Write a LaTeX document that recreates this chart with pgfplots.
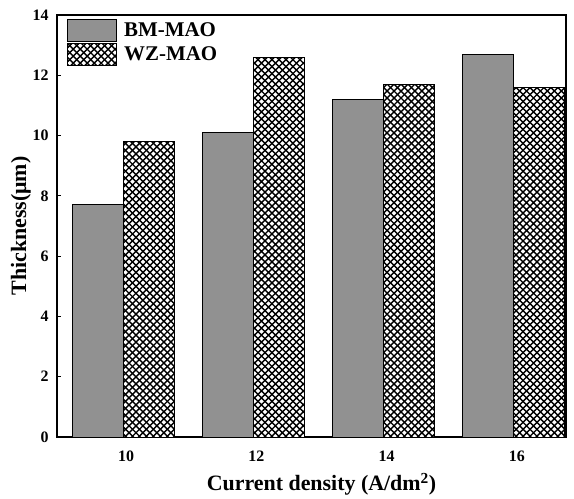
\documentclass[border=0pt]{standalone}
\usepackage{pgfplots}
\pgfplotsset{compat=1.18}
\usepackage{fontspec}
\setmainfont{Liberation Serif}
\usetikzlibrary{patterns}
\pgfdeclarepatternformonly{dcross}{\pgfqpoint{-1pt}{-1pt}}{\pgfqpoint{8pt}{8pt}}{\pgfqpoint{7pt}{7pt}}{%
  \pgfsetlinewidth{1.4pt}%
  \pgfpathmoveto{\pgfqpoint{0pt}{0pt}}\pgfpathlineto{\pgfqpoint{7pt}{7pt}}%
  \pgfpathmoveto{\pgfqpoint{0pt}{7pt}}\pgfpathlineto{\pgfqpoint{7pt}{0pt}}%
  \pgfusepath{stroke}}
\definecolor{bmgray}{RGB}{145,145,145}
\begin{document}
\begin{tikzpicture}
\begin{axis}[
  name=ax,
  scale only axis,
  width=509bp, height=422bp,
  ymin=0, ymax=14,
  ytick={0,2,...,14},
  xmin=-0.53, xmax=3.377,
  xtick={0,1,2,3},
  xticklabels={10,12,14,16},
  tick align=inside,
  ytick pos=left, xtick pos=bottom,
  major tick length=4bp,
  axis line style={line width=1.6pt},
  tick style={line width=1.2pt, black},
  /pgf/number format/assume math mode=true,
  ticklabel style={font=\fontsize{16}{18}\selectfont\bfseries},
  yticklabel style={xshift=-5bp},
  xticklabel style={yshift=-10bp},
  xlabel={\bfseries Current density (A/dm\textsuperscript{2})},
  ylabel={\bfseries Thickness(μm)},
  label style={font=\fontsize{22}{25}\selectfont},
  ylabel style={font=\fontsize{22}{25}\selectfont, yshift=-5bp},
  xlabel style={yshift=-5bp, xshift=10bp},
  legend cell align=left,
  legend style={draw=none, fill=none,
    at={(rel axis cs:0,1)}, anchor=north west, xshift=7bp, yshift=-2bp,
    font=\fontsize{21}{24}\selectfont\bfseries, row sep=1bp},
  legend image code/.code={\draw[#1, line width=1pt] (0bp,-11bp) rectangle (49bp,11bp);},
]
\addplot[ybar, bar width=51bp, bar shift=-28.5bp, fill=bmgray, draw=black, line width=1pt]
  coordinates {(0,7.7) (1,10.1) (2,11.2) (3,12.7)};
\addlegendentry{\hspace{5bp}BM-MAO}
\addplot[ybar, bar width=51bp, bar shift=22.5bp, fill=white, draw=black, line width=1pt,
  postaction={pattern=dcross}]
  coordinates {(0,9.8) (1,12.6) (2,11.7) (3,11.6)};
\addlegendentry{\hspace{5bp}WZ-MAO}
\end{axis}
\useasboundingbox ([xshift=-57bp,yshift=-62bp]ax.south west) rectangle ([xshift=8bp,yshift=15bp]ax.north east);
\end{tikzpicture}
\end{document}
